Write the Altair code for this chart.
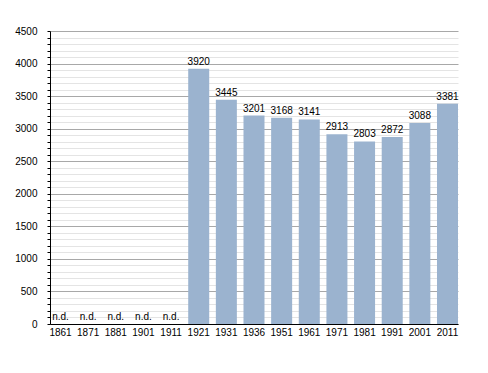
import altair as alt
import pandas as pd

years = ["1861", "1871", "1881", "1901", "1911", "1921", "1931", "1936",
         "1951", "1961", "1971", "1981", "1991", "2001", "2011"]
population = [None, None, None, None, None, 3920, 3445, 3201,
              3168, 3141, 2913, 2803, 2872, 3088, 3381]

labels = ["n.d." if v is None else str(v) for v in population]
df = pd.DataFrame({"year": years, "pop": [0 if v is None else v for v in population],
                   "label": labels})

FONT = "Liberation Sans"
x = alt.X("year:N", sort=years, title=None,
          scale=alt.Scale(paddingInner=0.24, paddingOuter=0),
          axis=alt.Axis(labelAngle=0, ticks=False, labelPadding=3, domainColor="#000",
                        labelFont=FONT, labelFontSize=10, labelColor="#000", grid=False))
y = alt.Y("pop:Q", title=None,
          scale=alt.Scale(domain=[0, 4500], nice=False),
          axis=alt.Axis(values=list(range(0, 4501, 100)), format="d",
                        labelExpr="datum.value % 500 === 0 ? datum.label : ''",
                        grid=True,
                        gridColor={"condition": {"test": "datum.value % 500 === 0", "value": "#a8a8a8"},
                                   "value": "#e4e4e4"},
                        tickColor="#000", tickSize=3, domainColor="#000",
                        labelPadding=10, labelFont=FONT, labelFontSize=10, labelColor="#000"))

bars = alt.Chart(df).mark_bar(color="#9bb3cf").encode(x=x, y=y)
text = alt.Chart(df).mark_text(baseline="bottom", dy=-2, font=FONT, fontSize=10,
                               color="#000").encode(x=x, y=y, text="label:N")

chart = alt.layer(bars, text).properties(
    width=408, height=293,
    padding={"left": 42, "top": 23, "right": 10, "bottom": 40},
    autosize=alt.AutoSizeParams(type="none"),
).configure_view(stroke=None)

chart.save("out.html", embed_options={"renderer": "svg", "actions": False})
